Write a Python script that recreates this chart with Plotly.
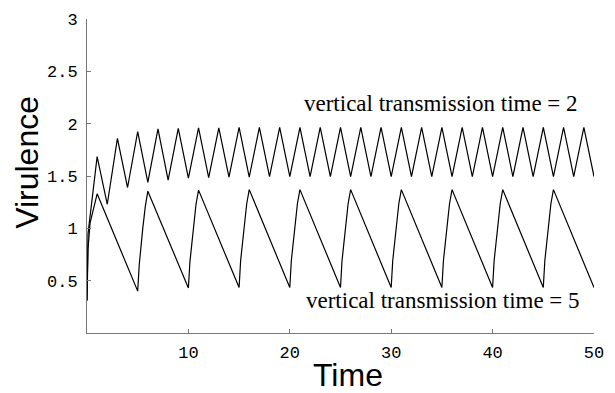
import plotly.graph_objects as go

# Series: vertical transmission time = 2 (period 2 triangle-like wave)
t2 = [0, 0.1, 1, 2, 3, 4, 5, 6, 7, 8, 9, 10, 11, 12, 13, 14, 15, 16, 17, 18, 19, 20,
      21, 22, 23, 24, 25, 26, 27, 28, 29, 30, 31, 32, 33, 34, 35, 36, 37, 38, 39, 40,
      41, 42, 43, 44, 45, 46, 47, 48, 49, 50]
v2 = [0.31, 0.95, 1.685, 1.23, 1.86, 1.39, 1.925, 1.44, 1.95, 1.46, 1.955, 1.48, 1.96, 1.485,
      1.96, 1.49, 1.965, 1.49, 1.965, 1.495, 1.965, 1.495, 1.965, 1.495, 1.965, 1.495,
      1.965, 1.495, 1.965, 1.495, 1.965, 1.495, 1.965, 1.495, 1.965, 1.495, 1.965, 1.495,
      1.965, 1.495, 1.965, 1.495, 1.965, 1.495, 1.965, 1.495, 1.965, 1.495, 1.965, 1.495,
      1.965, 1.495]

# Series: vertical transmission time = 5 (period 5 sawtooth)
t5 = [0, 0.1, 0.3, 1,
      5, 5.15, 5.5, 5.75, 6,
      10, 10.15, 10.5, 10.75, 11,
      15, 15.15, 15.5, 15.75, 16,
      20, 20.15, 20.5, 20.75, 21,
      25, 25.15, 25.5, 25.75, 26,
      30, 30.15, 30.5, 30.75, 31,
      35, 35.15, 35.5, 35.75, 36,
      40, 40.15, 40.5, 40.75, 41,
      45, 45.15, 45.5, 45.75, 46,
      50]
v5 = [0.31, 0.80, 1.05, 1.33,
      0.40, 0.65, 1.00, 1.21, 1.355,
      0.43, 0.68, 1.02, 1.23, 1.365,
      0.434, 0.69, 1.03, 1.235, 1.37,
      0.434, 0.69, 1.03, 1.235, 1.37,
      0.434, 0.69, 1.03, 1.235, 1.37,
      0.434, 0.69, 1.03, 1.235, 1.37,
      0.434, 0.69, 1.03, 1.235, 1.37,
      0.434, 0.69, 1.03, 1.235, 1.37,
      0.434, 0.69, 1.03, 1.235, 1.37,
      0.434]

x_ticks = [10, 20, 30, 40, 50]
x_tick_labels = ["10", "20", "30", "40", "50"]
y_ticks = [0.5, 1, 1.5, 2, 2.5, 3]
y_tick_labels = ["0.5", "1", "1.5", "2", "2.5", "3"]

label_2 = "vertical transmission time = 2"
label_5 = "vertical transmission time = 5"

fig = go.Figure()
fig.add_trace(go.Scatter(x=t2, y=v2, mode="lines",
                         line=dict(color="black", width=1.2), showlegend=False))
fig.add_trace(go.Scatter(x=t5, y=v5, mode="lines",
                         line=dict(color="black", width=1.2), showlegend=False))

axis_col = "#777777"
tick_font = dict(family="Liberation Mono", size=17, color="black")

fig.update_layout(
    width=615, height=393,
    margin=dict(l=86.5, r=11, t=13.3, b=60),
    paper_bgcolor="white", plot_bgcolor="white",
    xaxis=dict(range=[0, 50], tickvals=x_ticks, ticktext=x_tick_labels,
               showgrid=False, zeroline=False, showline=True, linecolor=axis_col,
               linewidth=1, ticks="inside", ticklen=4, tickcolor=axis_col,
               tickfont=tick_font, ticklabelstandoff=4),
    yaxis=dict(range=[0, 3], tickvals=y_ticks, ticktext=y_tick_labels,
               showgrid=False, zeroline=False, showline=True, linecolor=axis_col,
               linewidth=1, ticks="inside", ticklen=4, tickcolor=axis_col,
               tickfont=tick_font, ticklabelstandoff=5),
)

serif = dict(family="Liberation Serif", size=23, color="black")
fig.add_annotation(x=34.9, y=2.19, xref="x", yref="y", text=label_2,
                   showarrow=False, font=serif, xanchor="center", yanchor="middle")
fig.add_annotation(x=35.1, y=0.31, xref="x", yref="y", text=label_5,
                   showarrow=False, font=serif, xanchor="center", yanchor="middle")

title_font = dict(family="Liberation Sans", size=32, color="black")
fig.add_annotation(x=(353 - 86.5) / 517.5, y=(333 - 376) / 319.7, xref="paper", yref="paper",
                   text="Time", showarrow=False, font=title_font,
                   xanchor="center", yanchor="middle")
fig.add_annotation(x=(25 - 86.5) / 517.5, y=(333 - 159) / 319.7, xref="paper", yref="paper",
                   text="Virulence", showarrow=False, font=title_font, textangle=-90,
                   xanchor="center", yanchor="middle")

fig.write_html("out.html")
